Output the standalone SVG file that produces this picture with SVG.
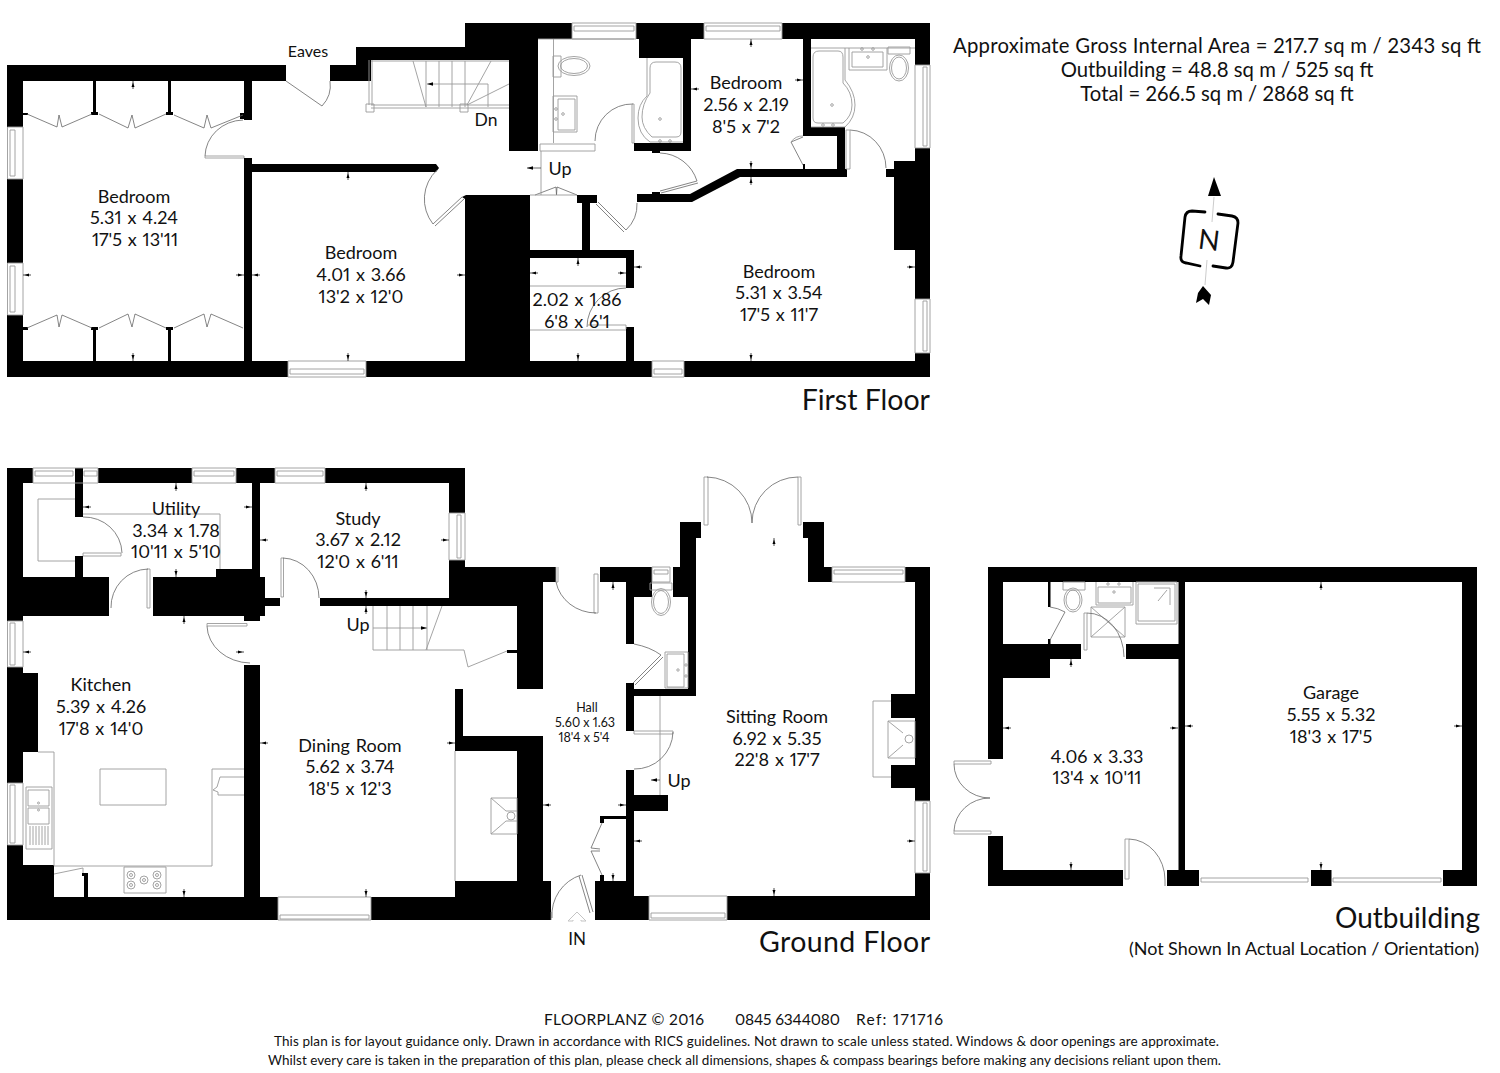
<svg xmlns="http://www.w3.org/2000/svg" xmlns:xlink="http://www.w3.org/1999/xlink" width="1500" height="1073" viewBox="0 0 1500 1073">
<style>
text{font-family:"Lato","Open Sans","Liberation Sans",sans-serif;fill:#111;text-anchor:middle;font-variant-numeric:proportional-nums lining-nums}
.r{font-size:18px;word-spacing:1.2px}
.h{font-size:12.5px}
.a{font-size:20.3px}
.f{font-size:28.5px;text-anchor:end}
.n{font-size:15.5px;text-anchor:start}
.b{fill:#000;stroke:none}
.t{fill:none;stroke:#9a9a9a;stroke-width:.9}
.d{fill:none;stroke:#666;stroke-width:.8}
.l{fill:none;stroke:#c4c4c4;stroke-width:1}
</style>
<defs>
<g id="tk"><path d="M0 0H8" stroke="#222" stroke-width=".8"/><path d="M1.5 0L6 -1.5V1.5Z" fill="#000"/></g>
</defs>
<rect width="1500" height="1073" fill="#fff"/>

<g id="first-floor">
<path class="b" d="M7 65H286V81H252V120H244V81H23V127H7Z M7 179H23V263H7Z M7 315H23V361H288V377H7Z M366 361H652V377H366Z M684 361H915V353H930V377H684Z M244 158H252V164H436L439 168L436 172H252V361H244Z M93 81H96V112H98V115H91V112H93Z M168 81H171V112H173V115H166V112H168Z M23 113H28V115H23Z M93 330H91V327H98V330H96V361H93Z M168 330H166V327H173V330H171V361H168Z M23 327H28V330H23Z M240 113H244V119H240Z M330 65H356V47H465V23H572V39H538V151H509V60H371V81H330Z M636 23H704V39H691V151H634V143H683V58H639V39H636Z M782 23H930V65H915V39H811V127H845V169H847V177H740L692 202H637V194H690L737 169H837V136H803V39H782Z M803 164H805V169H803Z M915 148H930V299H915V250H894V161H915Z M886 169H894V177H886Z M466 195H530V361H465V199L462 197Z M577 195H597V203H590V250H634V288H626V258H530V250H582V203H577Z M626 327H634V361H626Z M652 151H660V153H652Z M652 192H660V194H652Z"/>
<g class="t">
<path d="M7.500 127H23V179H7.500Z M10 130H15V176H10Z M7.500 263H23V315H7.500Z M10 266H15V312H10Z"/>
<path d="M288 361H366V377H288Z M290 369H364V374H290Z M572 23H636V39H572Z M574 26H634V31H574Z M704 23H782V39H704Z M706 26H780V31H706Z M652 361H684V377H652Z M654 369H682V374H654Z"/>
<path d="M915 65H930V148H915Z M923 67H927V146H923Z M915 299H930V353H915Z M923 301H927V351H923Z"/>
<path d="M205 158H244V156H205Z"/>
</g>
<g class="d">
<path d="M205 156A39 37 0 0 1 243 120"/>
<path d="M286 81L322 106A30 30 0 0 0 330 81"/>
<path d="M27 114L57 127L59 115L62 127L92 114M99 114L128 128L132 115L135 128L166 114M174 115L204 128L207 115L211 128L243 115"/>
<path d="M27 328L57 315L59 327L62 315L92 328M99 328L128 314L132 327L135 314L166 328M174 328L204 314L207 327L211 314L243 328"/>
<path d="M437 170A40 40 0 0 0 433 224M433 224L462 197M435 226L464 199"/>
<path d="M595 141A37 37 0 0 1 633 104M660 153A40 40 0 0 1 697 181M660 191L697 181M661 193L698 183M598 202L626 230M596 204L624 232M637 203A35 35 0 0 1 626 230M850 130A37 38 0 0 1 886 168M791 142L803 137M791 142L803 165"/>
<path d="M535 195L556 187L556.500 195L557 187L577 195"/>
<path d="M626 288A39 39 0 0 0 587 327"/>
</g>
<g class="t">
<path d="M371 61H509M371 105H509M371 108H509M369 60V105M372 60V105M413 61L426 107M426 61V107M439 61V107M452 61V107M465 61V107M491 61L467 105M509 84L467 105M427 84H488V107"/>
<path d="M366 104H374V112H366Z M460 104H468V112H460Z"/>
<path d="M538 39H634M553.500 39V143M553 56H561V77H553Z"/>
<path d="M540 144H595V151H540Z M632 104H634V143H632Z"/>
<path d="M553 96H577V132H553Z M558 99H575V130H558Z"/>
<ellipse cx="574" cy="66" rx="16" ry="9.500"/><ellipse cx="574" cy="66" rx="13.500" ry="7.500"/>
<circle cx="556" cy="109" r="1.300"/><circle cx="556" cy="119" r="1.300"/><circle cx="563" cy="114" r="1.300"/>
<path d="M647 58V96Q638 104 638 118Q638 134 650 142H683"/>
<path d="M650 68Q650 62 656 62H675Q681 62 681 68V132Q681 137 676 137H652Q642 128 642 117Q642 104 650 93Z"/>
<circle cx="660" cy="119" r="1.300"/><circle cx="660" cy="141" r="1.300"/><circle cx="670" cy="141" r="1.300"/>
<path d="M811 48H915M845 48V80Q855 92 855 105Q855 118 845 127H811"/>
<path d="M813 57Q813 51 819 51H838Q843 51 843 57V83Q852 92 852 105Q852 116 843 123H818Q813 123 813 118Z"/>
<circle cx="832" cy="105" r="1.300"/><circle cx="823" cy="125" r="1.300"/><circle cx="833" cy="125" r="1.300"/>
<path d="M849 48V70H887V48M852 52H883V67H852Z M888 47H910V54H888Z"/>
<circle cx="862" cy="49" r="1.300"/><circle cx="873" cy="49" r="1.300"/><circle cx="868" cy="57" r="1.300"/>
<ellipse cx="899" cy="68" rx="9.500" ry="13"/><ellipse cx="899" cy="68" rx="7.500" ry="11"/>
<path d="M846 130H850V169H846Z"/>
<path d="M791 142A14 14 0 0 1 803 136"/>
<path d="M541 151V195M530 195H577M530 286H626M530 330H626M587 325H626V329"/>
</g>
<g>
<use href="#tk" transform="translate(133 81) rotate(90)"/><use href="#tk" transform="translate(133 361) rotate(-90)"/><use href="#tk" transform="translate(23 275)"/><use href="#tk" transform="translate(244 275) rotate(180)"/>
<use href="#tk" transform="translate(252 275)"/><use href="#tk" transform="translate(465 275) rotate(180)"/><use href="#tk" transform="translate(348 172) rotate(90)"/><use href="#tk" transform="translate(348 361) rotate(-90)"/>
<use href="#tk" transform="translate(751 39) rotate(90)"/><use href="#tk" transform="translate(691 89)"/><use href="#tk" transform="translate(803 80) rotate(180)"/><use href="#tk" transform="translate(751 169) rotate(-90)"/>
<use href="#tk" transform="translate(751 177) rotate(90)"/><use href="#tk" transform="translate(751 361) rotate(-90)"/><use href="#tk" transform="translate(634 267)"/><use href="#tk" transform="translate(915 267) rotate(180)"/>
<use href="#tk" transform="translate(578 258) rotate(90)"/><use href="#tk" transform="translate(578 361) rotate(-90)"/><use href="#tk" transform="translate(530 273)"/><use href="#tk" transform="translate(626 273) rotate(180)"/>
<path d="M527 168H541" stroke="#444" stroke-width=".8"/><path d="M527 168L533 166.300V169.700Z" fill="#000"/>
<path d="M427 84L433 82.300V85.700Z" fill="#000"/>
</g>
<g id="first-floor-labels">
<text class="r" x="308" y="57" style="font-size:16px">Eaves</text>
<text class="r" x="486" y="126" style="font-size:17.500px">Dn</text>
<text class="r" x="560" y="175">Up</text>
<text class="r" x="134" y="203">Bedroom</text><text class="r" x="134" y="224">5.31 x 4.24</text><text class="r" x="135" y="246">17'5 x 13'11</text>
<text class="r" x="361" y="259">Bedroom</text><text class="r" x="361" y="281">4.01 x 3.66</text><text class="r" x="361" y="303">13'2 x 12'0</text>
<text class="r" x="746" y="89">Bedroom</text><text class="r" x="746" y="111">2.56 x 2.19</text><text class="r" x="746" y="133">8'5 x 7'2</text>
<text class="r" x="779" y="278">Bedroom</text><text class="r" x="779" y="299">5.31 x 3.54</text><text class="r" x="779" y="321">17'5 x 11'7</text>
<text class="r" x="577" y="306">2.02 x 1.86</text><text class="r" x="577" y="328">6'8 x 6'1</text>
<text class="f" x="930" y="410">First Floor</text>
</g>
</g>

<g id="ground-floor">
<path class="b" d="M7 468H33V483H23V577H109V616H23V621H7Z M75 468H83V517H75Z M75 556H83V577H75Z M98 468H192V483H98Z M236 468H275V483H260V577H265V616H260V621H244V616H153V577H216V569H252V483H236Z M265 598H280V606H265Z M325 468H465V513H449V483H325Z M449 560H465V567H556V582H543V689H517V606H320V598H449Z M7 667H23V673H38V752H23V783H7Z M7 845H23V865H54V897H244V665H260V897H278V920H7Z M371 897H455V881H517V751H455V689H463V736H543V881H551V920H371Z M600 567H652V597H634V644H626V582H600Z M680 522H701V538H696V696H634V731H626V683H634V689H688V597H673V567H680Z M626 770H634V795H668V811H634V896H649V920H595V881H626Z M727 896H915V873H930V920H727Z M905 567H930V801H915V582H905Z M803 522H824V567H832V582H808V538H803Z M891 694H915V718H891Z M891 765H915V788H891Z M600 816H626V819H604V823H600Z M600 875H604V881H600Z M507 650H517V653H507Z M84 873H88V897H84V876H82V873Z"/>
<g class="t">
<path d="M33 468H98V483H33Z M35 471H73V476H35Z M84 471H97V476H84Z M192 468H236V483H192Z M194 471H234V476H194Z M275 468H325V483H275Z M277 471H323V476H277Z"/>
<path d="M449 513H465V560H449Z M457 515H461V558H457Z M7.500 621H23V667H7.500Z M10 623H15V665H10Z M7.500 783H23V845H7.500Z M10 785H15V843H10Z"/>
<path d="M278 897H371V920H278Z M280 915H369V919H280Z M649 896H727V920H649Z M651 913H725V918H651Z M832 567H905V582H832Z M834 570H903V574H834Z M652 567H670V582H652Z M654 570H668V574H654Z M915 801H930V873H915Z M923 803H927V871H923Z"/>
<path d="M650 583H672V590H650Z"/>
<ellipse cx="661" cy="602" rx="9.500" ry="13.500"/><ellipse cx="661" cy="602" rx="7.500" ry="11.500"/>
<path d="M665 652H688V688H665Z M667 654H684V687H667Z"/>
<circle cx="686" cy="665" r="1.200"/><circle cx="686" cy="676" r="1.200"/><circle cx="678" cy="670" r="1.200"/>
<path d="M556 567V582H558V567M594 574H598V613H594Z M634 731H673V734H634Z M704 477H708V525H704Z M798 477H801V525H798Z M207 623.500H247V626H207Z M147 569H150V608H147Z M281 558H283.500V597H281Z M83 553H121V556H83Z"/>
<path d="M660 696V795"/>
</g>
<g class="d">
<path d="M634 644Q650 647 661 655L633 683M663 657L635 685"/>
<path d="M556 582A41 38 0 0 0 596 613M673 732A38 38 0 0 1 634 769"/>
<path d="M602 823L591 848L600 849M600 851L591 851L602 875"/>
<path d="M582 875L593 912M579 876L590 913M581 875A42 42 0 0 0 552 918M551 912V920"/>
<path d="M707 477A46 46 0 0 1 752 523M798 477A46 46 0 0 0 752 523"/>
<path d="M83 517A38 37 0 0 1 122 553M148 569A38 38 0 0 0 111 608M283 558A37 40 0 0 1 319 598M207 626A44 38 0 0 0 250 663"/>
</g>
<g class="t">
<path d="M455 751V881M491 798H517V834H491ZM491 798L506 811M491 834L506 821M506 811H517M506 821H517"/>
<circle cx="511" cy="816" r="4"/>
<path d="M891 701H873V777H891M888 721H915V758H888ZM888 721L903 733M888 758L903 745"/>
<circle cx="909" cy="739" r="4"/>
<path d="M38 752H54V866H212V769H244"/>
<path d="M100 769H166V805H100Z"/>
<path d="M26 787H52V849H26Z M28 790H49V806H28Z M28 808H49V824H28Z M30 826V845M33 826V845M36 826V845M39 826V845M42 826V845M45 826V845M48 826V845"/>
<circle cx="38.500" cy="803" r="1"/><circle cx="38.500" cy="810" r="1"/>
<path d="M124 867H166V893H124Z"/>
<circle cx="131" cy="875" r="4"/><circle cx="131" cy="875" r="1.500"/><circle cx="131" cy="885" r="4"/><circle cx="131" cy="885" r="1.500"/><circle cx="144" cy="880" r="4"/><circle cx="144" cy="880" r="1.500"/><circle cx="157" cy="875" r="4"/><circle cx="157" cy="875" r="1.500"/><circle cx="157" cy="885" r="4"/><circle cx="157" cy="885" r="1.500"/>
<path d="M54 874L83 868V873"/>
<path d="M244 777H220L217 787L213 790L218 792V795H244"/>
<path d="M75 499H38V561H75M83 514H220V569"/>
<path d="M373 606V650M387 606V650M400 606V650M413 606V650M427 606V650M442 606L426 650M373 650H464L468 667L507 651M373 628H427"/>
</g>
<path class="l" d="M577 912L586 921H581V920M577 912L568 921H573V920"/>
<g>
<use href="#tk" transform="translate(176 483) rotate(90)"/><use href="#tk" transform="translate(176 577) rotate(-90)"/><use href="#tk" transform="translate(83 507)"/><use href="#tk" transform="translate(252 507) rotate(180)"/>
<use href="#tk" transform="translate(366 483) rotate(90)"/><use href="#tk" transform="translate(366 598) rotate(-90)"/><use href="#tk" transform="translate(260 540)"/><use href="#tk" transform="translate(449 540) rotate(180)"/><use href="#tk" transform="translate(366 606) rotate(90)"/>
<use href="#tk" transform="translate(184 616) rotate(90)"/><use href="#tk" transform="translate(184 897) rotate(-90)"/><use href="#tk" transform="translate(23 652)"/><use href="#tk" transform="translate(244 652) rotate(180)"/>
<use href="#tk" transform="translate(260 743)"/><use href="#tk" transform="translate(455 743) rotate(180)"/><use href="#tk" transform="translate(366 897) rotate(-90)"/>
<use href="#tk" transform="translate(613 582) rotate(90)"/><use href="#tk" transform="translate(613 881) rotate(-90)"/><use href="#tk" transform="translate(543 805)"/><use href="#tk" transform="translate(626 805) rotate(180)"/>
<use href="#tk" transform="translate(774 538) rotate(90)"/><use href="#tk" transform="translate(774 896) rotate(-90)"/><use href="#tk" transform="translate(634 841)"/><use href="#tk" transform="translate(915 841) rotate(180)"/>
<path d="M651 780H660" stroke="#444" stroke-width=".8"/><path d="M651 780L657 778.300V781.700Z" fill="#000"/>
<path d="M427 628L421 626.300V629.700Z" fill="#000"/>
</g>
<g id="ground-floor-labels">
<text class="r" x="176" y="515">Utility</text><text class="r" x="176" y="537">3.34 x 1.78</text><text class="r" x="176" y="558">10'11 x 5'10</text>
<text class="r" x="358" y="525">Study</text><text class="r" x="358" y="546">3.67 x 2.12</text><text class="r" x="358" y="568">12'0 x 6'11</text>
<text class="r" x="101" y="691">Kitchen</text><text class="r" x="101" y="713">5.39 x 4.26</text><text class="r" x="101" y="735">17'8 x 14'0</text>
<text class="r" x="350" y="752">Dining Room</text><text class="r" x="350" y="773">5.62 x 3.74</text><text class="r" x="350" y="795">18'5 x 12'3</text>
<text class="h" x="587" y="712">Hall</text><text class="h" x="585" y="727">5.60 x 1.63</text><text class="h" x="584" y="742">18'4 x 5'4</text>
<text class="r" x="777" y="723">Sitting Room</text><text class="r" x="777" y="745">6.92 x 5.35</text><text class="r" x="777" y="766">22'8 x 17'7</text>
<text class="r" x="358" y="631">Up</text>
<text class="r" x="679" y="787">Up</text>
<text class="r" x="577" y="945" style="font-size:17px">IN</text>
<text class="f" x="930" y="952" textLength="171">Ground Floor</text>
</g>
</g>

<g id="outbuilding">
<path class="b" d="M988 567H1477V886H1443V870H1462V582H1185V870H1199V886H1167V870H1178.500V659H1126V644H1178.500V582H1003V644H1081V659H1050V678H1003V759H988Z M988 836H1003V870H1123V886H988Z M1311 870H1331.500V886H1311Z M1048 582H1050.500V607H1048Z M1048 639H1050.500V644H1048Z"/>
<g class="t">
<path d="M1201 878H1308V882H1201Z M1333 878H1441V882H1333Z"/>
<path d="M954 761H991V764H954Z M954 831H991V834H954Z M1125 839H1129V879H1125Z M1084 613H1087V650H1084Z"/>
<path d="M1063 582H1085V590H1063Z"/>
<ellipse cx="1073" cy="600" rx="9" ry="12"/><ellipse cx="1073" cy="600" rx="7" ry="10"/>
<path d="M1096 582V605H1133V582M1098 587H1131V603H1098Z"/>
<circle cx="1108" cy="584" r="1.200"/><circle cx="1119" cy="584" r="1.200"/><circle cx="1114" cy="592" r="1.200"/>
<path d="M1136 582H1177V624H1136Z M1138 584H1175V621H1138Z"/>
<path d="M1154 588H1170V605M1158 601L1167 590"/>
<path d="M1091 607H1125V637H1091ZM1091 607L1125 637M1125 607L1091 637"/>
</g>
<g class="d">
<path d="M954 764A36 34 0 0 0 990 798M954 831A36 34 0 0 1 990 798M1129 839A37 41 0 0 1 1165 880M1165 880V886M1087 613A37 44 0 0 1 1124 657M1050 607Q1058 608 1065 612L1050 640"/>
</g>
<g>
<use href="#tk" transform="translate(1321 582) rotate(90)"/><use href="#tk" transform="translate(1321 870) rotate(-90)"/><use href="#tk" transform="translate(1185 726)"/><use href="#tk" transform="translate(1462 726) rotate(180)"/>
<use href="#tk" transform="translate(1071 659) rotate(90)"/><use href="#tk" transform="translate(1071 870) rotate(-90)"/><use href="#tk" transform="translate(1003 728)"/><use href="#tk" transform="translate(1178 728) rotate(180)"/>
</g>
<text class="r" x="1331" y="699">Garage</text><text class="r" x="1331" y="721">5.55 x 5.32</text><text class="r" x="1331" y="743">18'3 x 17'5</text>
<text class="r" x="1097" y="763">4.06 x 3.33</text><text class="r" x="1097" y="784">13'4 x 10'11</text>
<text class="f" x="1480" y="928" style="font-size:28px">Outbuilding</text>
<text x="1304" y="955" style="font-size:18px" textLength="350">(Not Shown In Actual Location / Orientation)</text>
</g>

<g id="north-arrow">
<path d="M1214 177L1221 196H1208Z M1203 286L1211 295L1209 305L1203 299L1196 303L1198 293Z" fill="#000"/>
<path d="M1214 197L1212 222M1207 260L1205 285" stroke="#ccc" stroke-width="1" fill="none"/>
<path d="M1205 212L1192 211Q1186 211 1185 217L1181 256Q1180 262 1186 263L1200 266M1218 214L1232 216Q1238 217 1238 223L1233 262Q1232 269 1226 268L1213 266" fill="none" stroke="#000" stroke-width="2.800" stroke-linecap="round"/>
<text x="1209" y="250" transform="rotate(7 1209 240)" style="font-size:28px">N</text>
</g>

<g id="notes">
<text class="a" x="1217" y="53" textLength="528">Approximate Gross Internal Area = 217.7 sq m / 2343 sq ft</text>
<text class="a" x="1217" y="77">Outbuilding = 48.8 sq m / 525 sq ft</text>
<text class="a" x="1217" y="101">Total = 266.5 sq m / 2868 sq ft</text>
<text class="n" x="544" y="1025" textLength="160">FLOORPLANZ © 2016</text>
<text class="n" x="735" y="1025" textLength="105">0845 6344080</text>
<text class="n" x="856" y="1025" textLength="87">Ref: 171716</text>
<text x="746.500" y="1046" style="font-size:13.500px" textLength="945">This plan is for layout guidance only. Drawn in accordance with RICS guidelines. Not drawn to scale unless stated. Windows &amp; door openings are approximate.</text>
<text x="744.500" y="1065" style="font-size:13.500px" textLength="953">Whilst every care is taken in the preparation of this plan, please check all dimensions, shapes &amp; compass bearings before making any decisions reliant upon them.</text>
</g>
</svg>
